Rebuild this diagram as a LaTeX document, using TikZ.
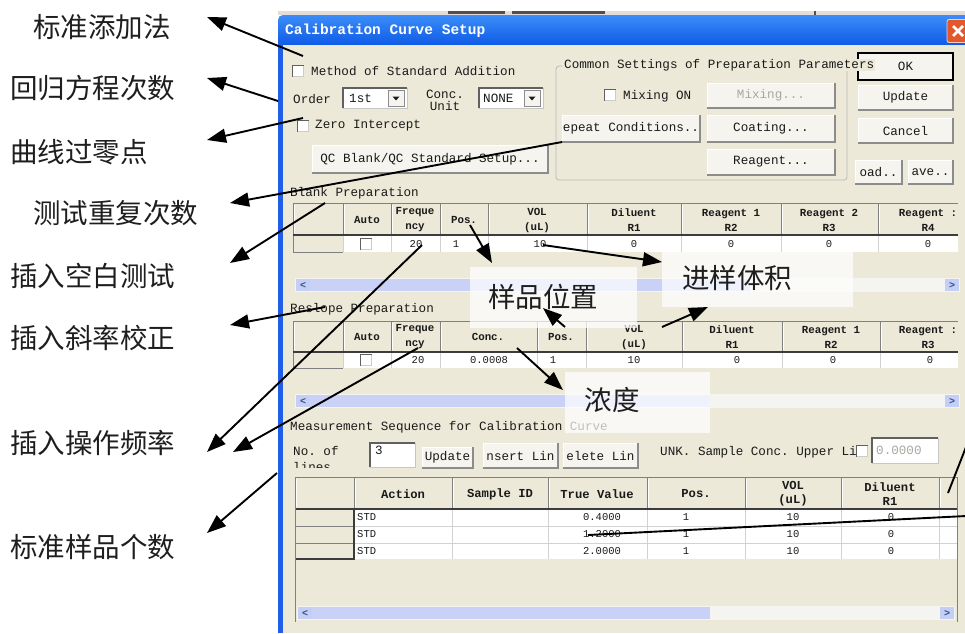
\documentclass[tikz,border=0pt]{standalone}
\usepackage{fontspec}
\setmonofont{Liberation Mono}
\newfontfamily\cjk{Noto Sans CJK SC}
\usetikzlibrary{arrows.meta}

\definecolor{winbg}{HTML}{ECE9D8}
\definecolor{stripbg}{HTML}{E4DCD8}
\definecolor{stripdark}{HTML}{505050}
\definecolor{frameblue}{HTML}{1F5FE8}
\definecolor{titletop}{HTML}{3C8DF8}
\definecolor{titlebot}{HTML}{0652E4}
\definecolor{closered}{HTML}{E3572B}
\definecolor{uitext}{HTML}{1A1A1A}
\definecolor{gridline}{HTML}{808080}
\definecolor{hdrline}{HTML}{3C3C3C}
\definecolor{btnface}{HTML}{F5F4EE}
\definecolor{btndark}{HTML}{8C8C8C}
\definecolor{scrolltrack}{HTML}{F4F4F0}
\definecolor{scrollthumb}{HTML}{C9D2F6}
\definecolor{scrollbtnbg}{HTML}{C3CFF5}
\definecolor{scrollarrow}{HTML}{3B4C8C}
\definecolor{greytext}{HTML}{A8A8A0}
\definecolor{notetext}{HTML}{1E1E1E}

\newcommand\uifont{\ttfamily\fontsize{12.6}{13}\selectfont}

\tikzset{
  ui/.style={font=\uifont, inner sep=0pt, text=uitext},
  hdr/.style={font=\ttfamily\bfseries\fontsize{10.8}{15}\selectfont, align=center, inner sep=0pt, text=uitext},
  hdrbig/.style={font=\ttfamily\bfseries\fontsize{12.2}{14}\selectfont, align=center, inner sep=0pt, text=uitext},
  val/.style={font=\ttfamily\fontsize{10.5}{12}\selectfont, inner sep=0pt, text=uitext},
  btnbox/.style={fill=btnface, draw=white, line width=1pt, inner sep=0pt, outer sep=0pt, font=\uifont, text=uitext},
  btnshade/.style={draw=btndark, line width=1.6pt},
  chk/.style={fill=white, draw=gray!40, line width=0.6pt, minimum size=11pt, inner sep=0pt, outer sep=0pt},
  sunken/.style={draw=gray!75!black, line width=1.4pt},
  editbg/.style={fill=white, draw=gray!45, line width=0.6pt, inner sep=0pt, outer sep=0pt},
  dropbtn/.style={fill=btnface, draw=btndark, line width=0.8pt, minimum width=16pt, minimum height=16pt, inner sep=0pt},
  gridline/.style={draw=gridline, line width=1pt},
  softgrid/.style={draw=gray!35, line width=0.8pt},
  hdrline/.style={draw=hdrline, line width=1.6pt},
  scrollbtn/.style={fill=scrollbtnbg, minimum width=14pt, minimum height=12pt, inner sep=0pt,
    font=\ttfamily\bfseries\fontsize{10}{10}\selectfont, text=scrollarrow},
  notelabel/.style={font=\cjk\fontsize{27.5}{30}\selectfont, inner sep=0pt, text=notetext},
  notebox/.style={fill=white, fill opacity=0.72, draw=none, inner sep=0pt},
  callout/.style={draw=black, line width=1.9pt, -{Triangle[length=19pt,width=14pt]}},
  leader/.style={draw=black, line width=1.9pt},
}

% push button: name, x1, y1, x2, y2, caption
\newcommand\pushbtn[6]{%
  \node[btnbox, minimum width={#4-#2}, minimum height={#5-#3}] (#1) at ({(#2+#4)/2},{(#3+#5)/2}) {#6};
  \draw[btnshade] (#1.north east) -- (#1.south east) -- (#1.south west);
}
% check box: name, x, y
\newcommand\chkbox[3]{%
  \node[chk] (#1) at (#2,#3) {};
  \draw[sunken] (#1.south west) -- (#1.north west) -- (#1.north east);
}
% edit field: name, x1, y1, x2, y2
\newcommand\editfield[5]{%
  \node[editbg, minimum width={#4-#2}, minimum height={#5-#3}] (#1) at ({(#2+#4)/2},{(#3+#5)/2}) {};
  \draw[sunken] (#1.south west) -- (#1.north west) -- (#1.north east);
}
% horizontal scroll bar: name, x1, x2, y centre, end of thumb
\newcommand\hscroll[5]{%
  \fill[scrolltrack] (#2,#4-7) rectangle (#3,#4+7);
  \fill[scrollthumb] (#2+15,#4-6) rectangle (#5,#4+6);
  \node[scrollbtn] (#1-l) at (#2+8,#4) {<};
  \node[scrollbtn] (#1-r) at (#3-8,#4) {>};
}

\begin{document}
\begin{tikzpicture}[x=1pt,y=-1pt]
\useasboundingbox (0,0) rectangle (965,633);
\fill[white] (0,0) rectangle (965,633);

% window lying behind the dialog
\fill[stripbg] (278,11) rectangle (965,15);
\fill[stripdark] (448,11) rectangle (505,13.5);
\fill[stripdark] (512,11) rectangle (605,13.5);
\fill[stripdark] (814,11) rectangle (816,15);

% dialog frame, title bar and body
\shade[top color=titletop, bottom color=titlebot, rounded corners=5pt] (278,15) rectangle (975,50);
\fill[frameblue] (278,42) rectangle (283,633);
\fill[winbg] (283,45) rectangle (965,633);
\node[font=\ttfamily\bfseries\fontsize{14.5}{15}\selectfont, text=white, inner sep=0pt, anchor=west] (title) at (285,31) {Calibration Curve Setup};
\node[fill=closered, draw=white!70!closered, line width=0.8pt, rounded corners=2pt, minimum width=22pt, minimum height=23pt] (close) at (958,31) {};
\draw[white, line width=2.6pt] ([shift={(-5,-5)}]close.center) -- ([shift={(5,5)}]close.center);
\draw[white, line width=2.6pt] ([shift={(-5,5)}]close.center) -- ([shift={(5,-5)}]close.center);

% ---- upper settings ----
\chkbox{stdadd}{298}{71}
\node[ui, anchor=west] (stdaddtext) at (311,71) {Method of Standard Addition};
\node[ui, anchor=west] (ordertext) at (293,99) {Order};
\editfield{ordercombo}{343}{88}{407}{108}
\node[ui, anchor=west] (ordervalue) at (349,98) {1st};
\node[dropbtn] (orderdrop) at (396,98) {};
\fill[uitext] ([shift={(-3.5,-1.5)}]orderdrop.center) -- ++(7,0) -- ++(-3.5,4) -- cycle;
\node[ui, align=center, font=\ttfamily\fontsize{12.6}{12}\selectfont] (concunit) at (445,100) {Conc.\\Unit};
\editfield{unitcombo}{479}{88}{543}{108}
\node[ui, anchor=west] (unitvalue) at (483,98) {NONE};
\node[dropbtn] (unitdrop) at (532,98) {};
\fill[uitext] ([shift={(-3.5,-1.5)}]unitdrop.center) -- ++(7,0) -- ++(-3.5,4) -- cycle;
\chkbox{zeroint}{303}{126}
\node[ui, anchor=west] (zerotext) at (315,126) {Zero Intercept};
\pushbtn{qcbtn}{312}{145}{548}{173}{QC Blank/QC Standard Setup...}

% group of common preparation settings
\draw[gray!55, line width=0.8pt, rounded corners=3pt] (562,66) -- (556,66) -- (556,180) -- (847,180) -- (847,66) -- (840,66);
\pushbtn{okbtn}{858}{53}{953}{80}{OK}
\draw[black, line width=1.2pt] (okbtn.south west) rectangle (okbtn.north east);
\node[ui, anchor=west, fill=winbg, inner xsep=1pt] (commontext) at (563,65) {Common Settings of Preparation Parameters};
\chkbox{mixchk}{610}{95}
\node[ui, anchor=west] (mixtext) at (623,96) {Mixing ON};
\pushbtn{mixbtn}{707}{83}{835}{108}{\textcolor{greytext}{Mixing...}}
\pushbtn{repeatbtn}{562}{115}{700}{142}{epeat Conditions..}
\pushbtn{coatbtn}{707}{115}{835}{142}{Coating...}
\pushbtn{reagbtn}{707}{149}{835}{175}{Reagent...}
\pushbtn{updbtn}{858}{85}{953}{110}{Update}
\pushbtn{cancelbtn}{858}{118}{953}{143}{Cancel}
\pushbtn{loadbtn}{855}{160}{902}{184}{oad..}
\pushbtn{savebtn}{908}{160}{953}{184}{ave..}

% ---- blank preparation table ----
\node[ui, anchor=west] (blanktext) at (290,193) {Blank Preparation};
\fill[winbg] (293,203) rectangle (958,235);
\fill[white] (343,235) rectangle (958,252);
\foreach \x in {343,391,440,488,587,681,781,878} \draw[softgrid] (\x,236) -- (\x,252);
\foreach \x in {293,343,391,440,488,587,681,781,878} {
  \draw[gridline] (\x,203) -- (\x,235);
  \draw[white, line width=1pt] (\x+1.5,205) -- (\x+1.5,233);
}
\draw[gridline] (293,203) -- (958,203);
\draw[gridline] (293,235) -- (293,252) -- (343,252);
\draw[hdrline] (293,235) -- (958,235);
\foreach \x/\t [count=\i] in {367/Auto, 415/{Freque\\ncy}, 464/Pos., 537/{VOL\\(uL)}, 634/{Diluent\\R1}, 731/{Reagent 1\\R2}, 829/{Reagent 2\\R3}, 928/{Reagent :\\R4}}
  \node[hdr] (bh\i) at (\x,220) {\t};
\chkbox{bauto}{366}{244}
\foreach \x/\t [count=\i] in {416/20, 456/1, 540/10, 634/0, 731/0, 829/0, 928/0}
  \node[val] (bv\i) at (\x,244) {\t};
\hscroll{bscroll}{295}{960}{285}{750}

% ---- reslope preparation table ----
\node[ui, anchor=west] (reslopetext) at (290,309) {Reslope Preparation};
\fill[winbg] (293,321) rectangle (958,352);
\fill[white] (343,352) rectangle (958,368);
\foreach \x in {343,391,440,537,586,682,782,880} \draw[softgrid] (\x,353) -- (\x,368);
\foreach \x in {293,343,391,440,537,586,682,782,880} {
  \draw[gridline] (\x,321) -- (\x,352);
  \draw[white, line width=1pt] (\x+1.5,323) -- (\x+1.5,350);
}
\draw[gridline] (293,321) -- (958,321);
\draw[gridline] (293,352) -- (293,368) -- (343,368);
\draw[hdrline] (293,352) -- (958,352);
\foreach \x/\t [count=\i] in {367/Auto, 415/{Freque\\ncy}, 488/Conc., 561/Pos., 634/{VOL\\(uL)}, 732/{Diluent\\R1}, 831/{Reagent 1\\R2}, 928/{Reagent :\\R3}}
  \node[hdr] (rh\i) at (\x,337) {\t};
\chkbox{rauto}{366}{360}
\foreach \x/\t [count=\i] in {418/20, 489/0.0008, 553/1, 634/10, 737/0, 833/0, 930/0}
  \node[val] (rv\i) at (\x,360) {\t};
\hscroll{rscroll}{295}{960}{401}{710}

% ---- measurement sequence ----
\node[ui, anchor=west] (seqtext) at (290,427) {Measurement Sequence for Calibration Curve};
\begin{scope}
  \clip (288,440) rectangle (345,467);
  \node[ui, anchor=north west, align=left, font=\ttfamily\fontsize{12.6}{16}\selectfont] (nolines) at (293,446) {No. of\\lines};
\end{scope}
\editfield{nofield}{370}{443}{415}{467}
\node[ui, anchor=north west] (novalue) at (375,446) {3};
\pushbtn{sequpd}{422}{447}{473}{468}{Update}
\pushbtn{insbtn}{483}{443}{558}{468}{nsert Lin}
\pushbtn{delbtn}{563}{443}{638}{468}{elete Lin}
\node[ui, anchor=west] (unktext) at (660,452) {UNK. Sample Conc. Upper Li};
\chkbox{unkchk}{862}{451}
\editfield{unkfield}{872}{438}{938}{463}
\node[ui, anchor=west, text=greytext] (unkvalue) at (876,450) {0.0000};

% sequence table
\fill[winbg] (295,477) rectangle (957,622);
\fill[white] (354,509) rectangle (957,559);
\foreach \x in {354,452,548,647,745,841,939} \draw[softgrid] (\x,509) -- (\x,559);
\foreach \y in {526,543} \draw[softgrid] (354,\y) -- (957,\y);
\foreach \x in {295,354,452,548,647,745,841,939} {
  \draw[gridline] (\x,477) -- (\x,509);
  \draw[white, line width=1pt] (\x+1.5,479) -- (\x+1.5,507);
}
\draw[gridline] (295,477) -- (957,477);
\draw[hdrline] (295,509) -- (957,509);
\foreach \y in {526,543} \draw[gridline] (295,\y) -- (354,\y);
\draw[hdrline] (295,559) -- (354,559) -- (354,509);
\draw[gridline] (957,477) -- (957,622);
\draw[gridline] (295,477) -- (295,622);
\foreach \x/\t [count=\i] in {403/Action, 500/Sample ID, 597/True Value, 696/Pos., 793/{VOL\\(uL)}, 890/{Diluent\\R1}}
  \node[hdrbig] (sh\i) at (\x,494) {\t};
\foreach \y/\v [count=\i] in {517.5/0.4000, 534.5/1.2000, 551/2.0000} {
  \node[val, anchor=west] (sa\i) at (357,\y) {STD};
  \node[val] (st\i) at (602,\y) {\v};
  \node[val] (sp\i) at (686,\y) {1};
  \node[val] (sv\i) at (793,\y) {10};
  \node[val] (sd\i) at (891,\y) {0};
}
\hscroll{sscroll}{297}{955}{613}{710}

% ---- notes on the right ----
\node[notebox, minimum width=167pt, minimum height=61pt] (posbox) at (553.5,297.5) {};
\node[notebox, minimum width=191pt, minimum height=55pt] (volbox) at (757.5,279.5) {};
\node[notebox, minimum width=145pt, minimum height=61pt] (concbox) at (637.5,402.5) {};
\node[notelabel] (posnote) at (543,297) {样品位置};
\node[notelabel] (volnote) at (737,278) {进样体积};
\node[notelabel] (concnote) at (612,400) {浓度};

% ---- notes on the left ----
\node[notelabel, anchor=west] (n1) at (33,27) {标准添加法};
\node[notelabel, anchor=west] (n2) at (10,88) {回归方程次数};
\node[notelabel, anchor=west] (n3) at (10,152) {曲线过零点};
\node[notelabel, anchor=west] (n4) at (33,213) {测试重复次数};
\node[notelabel, anchor=west] (n5) at (10,276) {插入空白测试};
\node[notelabel, anchor=west] (n6) at (10,338) {插入斜率校正};
\node[notelabel, anchor=west] (n7) at (10,443) {插入操作频率};
\node[notelabel, anchor=west] (n8) at (10,547) {标准样品个数};

% arrow ends beside the notes
\coordinate (t1) at (207,17);
\coordinate (t2) at (207,78);
\coordinate (t3) at (207,140);
\coordinate (t4) at (230,203);
\coordinate (t5) at (230,263);
\coordinate (t6) at (230,325);
\coordinate (t7a) at (207,452);
\coordinate (t7b) at (233,452);
\coordinate (t8) at (207,533);
\coordinate (tpos) at (492,263);
\coordinate (tposb) at (543,308);
\coordinate (tvol) at (662,262);
\coordinate (tvolb) at (708,307);
\coordinate (tconc) at (563,390);

% points picked out on the dialog
\coordinate (p1) at (303,56);
\coordinate (p2) at (278,101);
\coordinate (p3) at (303,118);
\coordinate (p4) at (repeatbtn.south west);
\coordinate (p5) at (325,203);
\coordinate (p6) at (325,307);
\coordinate (p7) at (422,245);
\coordinate (p8) at (418,348);
\coordinate (p9) at (277,473);
\coordinate (ppos) at (470,225);
\coordinate (pposb) at (565,327);
\coordinate (pvol) at (543,245);
\coordinate (pvolb) at (662,327);
\coordinate (pconc) at (517,348);
\coordinate (e1) at (966,447);
\coordinate (e1end) at (948,493);
\coordinate (e2) at (966,516);
\coordinate (e2end) at (588,535);

\draw[callout] (p1) -- (t1);
\draw[callout] (p2) -- (t2);
\draw[callout] (p3) -- (t3);
\draw[callout] (p4) -- (t4);
\draw[callout] (p5) -- (t5);
\draw[callout] (p6) -- (t6);
\draw[callout] (p7) -- (t7a);
\draw[callout] (p8) -- (t7b);
\draw[callout] (p9) -- (t8);
\draw[callout] (ppos) -- (tpos);
\draw[callout] (pposb) -- (tposb);
\draw[callout] (pvol) -- (tvol);
\draw[callout] (pvolb) -- (tvolb);
\draw[callout] (pconc) -- (tconc);
\draw[leader] (e1) -- (e1end);
\draw[leader] (e2) -- (e2end);
\end{tikzpicture}
\end{document}
